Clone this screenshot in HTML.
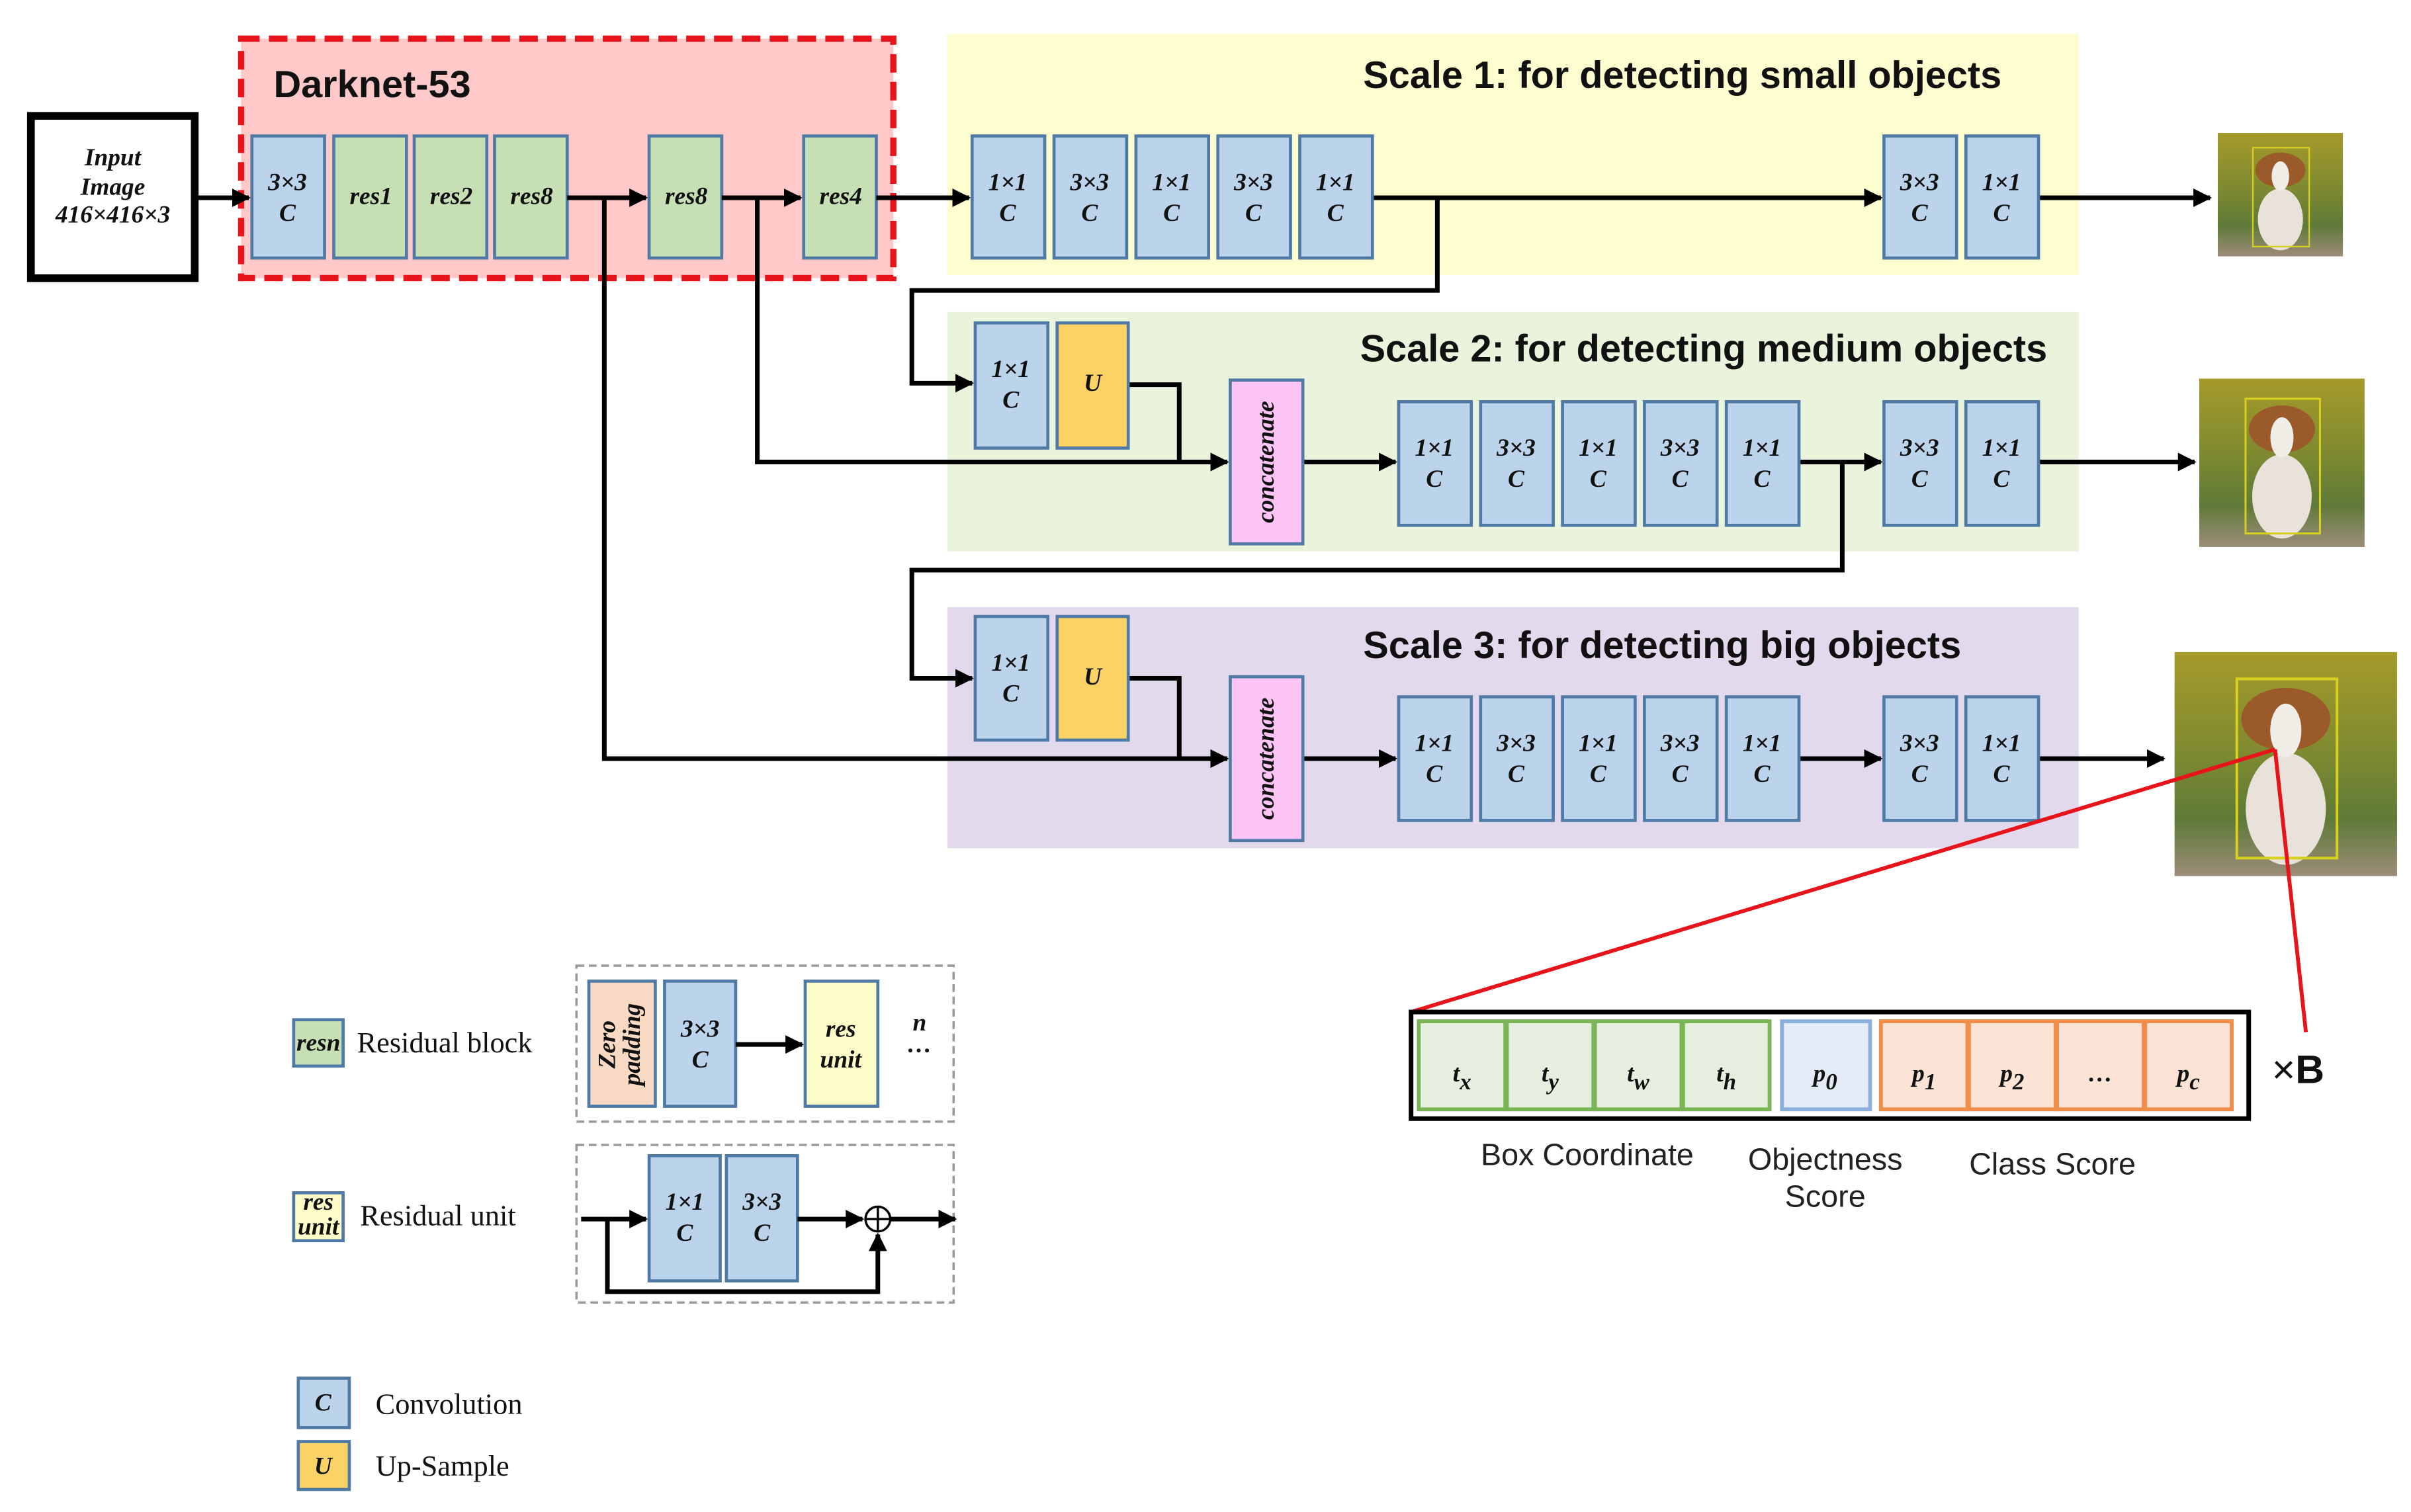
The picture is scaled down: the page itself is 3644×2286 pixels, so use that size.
<!DOCTYPE html>
<html><head><meta charset="utf-8"><style>
html,body{margin:0;padding:0;background:#fff;}
svg{display:block;}
.b{fill:#bcd3ec;stroke:#4f7aa6;stroke-width:2}
.g{fill:#c6dfb4;stroke:#4f7aa6;stroke-width:2}
.y{fill:#fbd365;stroke:#4f7aa6;stroke-width:2}
.t{font-family:"Liberation Serif",serif;font-style:italic;font-weight:bold;font-size:16px;text-anchor:middle;fill:#111}
.h{font-family:"Liberation Sans",sans-serif;font-weight:bold;font-size:24.7px;fill:#111}
.s{font-family:"Liberation Sans",sans-serif;font-size:20px;fill:#222;text-anchor:middle}
.l{font-family:"Liberation Serif",serif;font-size:19px;fill:#111}
.ln{stroke:#000;stroke-width:3;fill:none}
</style></head><body>
<svg width="3644" height="2286" viewBox="0 0 1560 978.6" preserveAspectRatio="none" xmlns="http://www.w3.org/2000/svg">
<defs>
<marker id="a" viewBox="0 0 10 10" refX="9" refY="5" markerWidth="4" markerHeight="4" orient="auto"><path d="M0,0L10,5L0,10z" fill="#000"/></marker>
<linearGradient id="bg" x1="0" y1="0" x2="0" y2="1"><stop offset="0" stop-color="#a59a2a"/><stop offset="0.45" stop-color="#7e8a30"/><stop offset="0.75" stop-color="#5f7a38"/><stop offset="1" stop-color="#9c8c78"/></linearGradient>
<symbol id="dog" viewBox="0 0 100 100" preserveAspectRatio="none">
<rect width="100" height="100" fill="url(#bg)"/>
<ellipse cx="50" cy="70" rx="18" ry="25" fill="#e8e2da"/>
<ellipse cx="50" cy="30" rx="20" ry="14" fill="#9a5a2a"/>
<ellipse cx="50" cy="35" rx="7" ry="12" fill="#f0ece6"/>
<rect x="28" y="12" width="45" height="80" fill="none" stroke="#d8d020" stroke-width="1.2"/>
</symbol>
</defs>

<rect x="20" y="75" width="106" height="105" fill="#fff" stroke="#000" stroke-width="5"/>
<text class="t" x="73" y="107" font-size="14">Input</text>
<text class="t" x="73" y="126" font-size="14">Image</text>
<text class="t" x="73" y="144" font-size="14">416×416×3</text>

<rect x="156" y="25" width="422" height="155" fill="#ffc9c9" stroke="#e8141c" stroke-width="4" stroke-dasharray="12,6"/>
<text class="h" x="177" y="63" font-size="29">Darknet-53</text>
<rect class="b" x="163" y="88" width="47" height="79"/><text class="t" x="186" y="123">3×3</text><text class="t" x="186" y="143">C</text>
<rect class="g" x="216" y="88" width="47" height="79"/><text class="t" x="240" y="132" font-size="13">res1</text>
<rect class="g" x="268" y="88" width="47" height="79"/><text class="t" x="292" y="132" font-size="13">res2</text>
<rect class="g" x="320" y="88" width="47" height="79"/><text class="t" x="344" y="132" font-size="13">res8</text>
<rect class="g" x="420" y="88" width="47" height="79"/><text class="t" x="444" y="132" font-size="13">res8</text>
<rect class="g" x="520" y="88" width="47" height="79"/><text class="t" x="544" y="132" font-size="13">res4</text>

<rect x="613" y="22" width="732" height="156" fill="#fefdd0"/>
<rect x="613" y="202" width="732" height="155" fill="#eaf4dc"/>
<rect x="613" y="393" width="732" height="156" fill="#e3d9ec"/>
<text class="h" x="882" y="57">Scale 1: for detecting small objects</text>
<text class="h" x="880" y="234">Scale 2: for detecting medium objects</text>
<text class="h" x="882" y="426">Scale 3: for detecting big objects</text>

<path class="ln" d="M126,128H161" marker-end="url(#a)"/>
<path class="ln" d="M367,128H418" marker-end="url(#a)"/>
<path class="ln" d="M467,128H518" marker-end="url(#a)"/>
<path class="ln" d="M567,128H627" marker-end="url(#a)"/>
<path class="ln" d="M888,128H1217" marker-end="url(#a)"/>
<path class="ln" d="M1319,128H1430" marker-end="url(#a)"/>
<path class="ln" d="M930,128V188H590V248H629" marker-end="url(#a)"/>
<path class="ln" d="M730,249H763V299H794" marker-end="url(#a)"/>
<path class="ln" d="M490,128V299H794" marker-end="url(#a)"/>
<path class="ln" d="M843,299H903" marker-end="url(#a)"/>
<path class="ln" d="M1164,299H1217" marker-end="url(#a)"/>
<path class="ln" d="M1319,299H1420" marker-end="url(#a)"/>
<path class="ln" d="M1192,299V369H590V439H629" marker-end="url(#a)"/>
<path class="ln" d="M730,439H763V491H794" marker-end="url(#a)"/>
<path class="ln" d="M391,128V491H794" marker-end="url(#a)"/>
<path class="ln" d="M843,491H903" marker-end="url(#a)"/>
<path class="ln" d="M1164,491H1217" marker-end="url(#a)"/>
<path class="ln" d="M1319,491H1400" marker-end="url(#a)"/>

<g>
<rect class="b" x="629" y="88" width="47" height="79"/><text class="t" x="652" y="123">1×1</text><text class="t" x="652" y="143">C</text>
<rect class="b" x="682" y="88" width="47" height="79"/><text class="t" x="705" y="123">3×3</text><text class="t" x="705" y="143">C</text>
<rect class="b" x="735" y="88" width="47" height="79"/><text class="t" x="758" y="123">1×1</text><text class="t" x="758" y="143">C</text>
<rect class="b" x="788" y="88" width="47" height="79"/><text class="t" x="811" y="123">3×3</text><text class="t" x="811" y="143">C</text>
<rect class="b" x="841" y="88" width="47" height="79"/><text class="t" x="864" y="123">1×1</text><text class="t" x="864" y="143">C</text>
<rect class="b" x="1219" y="88" width="47" height="79"/><text class="t" x="1242" y="123">3×3</text><text class="t" x="1242" y="143">C</text>
<rect class="b" x="1272" y="88" width="47" height="79"/><text class="t" x="1295" y="123">1×1</text><text class="t" x="1295" y="143">C</text>
</g>
<use href="#dog" x="1435" y="86" width="81" height="80"/>

<rect class="b" x="631" y="209" width="47" height="81"/><text class="t" x="654" y="244">1×1</text><text class="t" x="654" y="264">C</text>
<rect class="y" x="684" y="209" width="46" height="81"/><text class="t" x="707" y="253">U</text>
<rect x="796" y="246" width="47" height="106" fill="#fcc5f5" stroke="#4f7aa6" stroke-width="2"/>
<text class="t" font-size="13" transform="translate(824,299) rotate(-90)">concatenate</text>
<g>
<rect class="b" x="905" y="260" width="47" height="80"/><text class="t" x="928" y="295">1×1</text><text class="t" x="928" y="315">C</text>
<rect class="b" x="958" y="260" width="47" height="80"/><text class="t" x="981" y="295">3×3</text><text class="t" x="981" y="315">C</text>
<rect class="b" x="1011" y="260" width="47" height="80"/><text class="t" x="1034" y="295">1×1</text><text class="t" x="1034" y="315">C</text>
<rect class="b" x="1064" y="260" width="47" height="80"/><text class="t" x="1087" y="295">3×3</text><text class="t" x="1087" y="315">C</text>
<rect class="b" x="1117" y="260" width="47" height="80"/><text class="t" x="1140" y="295">1×1</text><text class="t" x="1140" y="315">C</text>
<rect class="b" x="1219" y="260" width="47" height="80"/><text class="t" x="1242" y="295">3×3</text><text class="t" x="1242" y="315">C</text>
<rect class="b" x="1272" y="260" width="47" height="80"/><text class="t" x="1295" y="295">1×1</text><text class="t" x="1295" y="315">C</text>
</g>
<use href="#dog" x="1423" y="245" width="107" height="109"/>

<rect class="b" x="631" y="399" width="47" height="80"/><text class="t" x="654" y="434">1×1</text><text class="t" x="654" y="454">C</text>
<rect class="y" x="684" y="399" width="46" height="80"/><text class="t" x="707" y="443">U</text>
<rect x="796" y="438" width="47" height="106" fill="#fcc5f5" stroke="#4f7aa6" stroke-width="2"/>
<text class="t" font-size="13" transform="translate(824,491) rotate(-90)">concatenate</text>
<g>
<rect class="b" x="905" y="451" width="47" height="80"/><text class="t" x="928" y="486">1×1</text><text class="t" x="928" y="506">C</text>
<rect class="b" x="958" y="451" width="47" height="80"/><text class="t" x="981" y="486">3×3</text><text class="t" x="981" y="506">C</text>
<rect class="b" x="1011" y="451" width="47" height="80"/><text class="t" x="1034" y="486">1×1</text><text class="t" x="1034" y="506">C</text>
<rect class="b" x="1064" y="451" width="47" height="80"/><text class="t" x="1087" y="486">3×3</text><text class="t" x="1087" y="506">C</text>
<rect class="b" x="1117" y="451" width="47" height="80"/><text class="t" x="1140" y="486">1×1</text><text class="t" x="1140" y="506">C</text>
<rect class="b" x="1219" y="451" width="47" height="80"/><text class="t" x="1242" y="486">3×3</text><text class="t" x="1242" y="506">C</text>
<rect class="b" x="1272" y="451" width="47" height="80"/><text class="t" x="1295" y="486">1×1</text><text class="t" x="1295" y="506">C</text>
</g>
<use href="#dog" x="1407" y="422" width="144" height="145"/>

<path d="M1472,485L913,655M1472,485L1492,668" stroke="#e8141c" stroke-width="2.5" fill="none"/>

<rect x="913" y="655" width="542" height="69" fill="#fff" stroke="#000" stroke-width="3"/>
<g stroke-width="2.5">
<rect x="918" y="661" width="56" height="57" fill="#e6efdf" stroke="#7ab555"/>
<rect x="975" y="661" width="56" height="57" fill="#e6efdf" stroke="#7ab555"/>
<rect x="1032" y="661" width="56" height="57" fill="#e6efdf" stroke="#7ab555"/>
<rect x="1089" y="661" width="56" height="57" fill="#e6efdf" stroke="#7ab555"/>
<rect x="1153" y="661" width="57" height="57" fill="#e3ebf6" stroke="#8cb0dc"/>
<rect x="1217" y="661" width="56" height="57" fill="#fbe3d6" stroke="#ef8d4a"/>
<rect x="1274" y="661" width="56" height="57" fill="#fbe3d6" stroke="#ef8d4a"/>
<rect x="1331" y="661" width="56" height="57" fill="#fbe3d6" stroke="#ef8d4a"/>
<rect x="1388" y="661" width="56" height="57" fill="#fbe3d6" stroke="#ef8d4a"/>
</g>
<text class="t" x="946" y="700" font-size="24">t<tspan font-size="15" dy="5">x</tspan></text>
<text class="t" x="1003" y="700" font-size="24">t<tspan font-size="15" dy="5">y</tspan></text>
<text class="t" x="1060" y="700" font-size="24">t<tspan font-size="15" dy="5">w</tspan></text>
<text class="t" x="1117" y="700" font-size="24">t<tspan font-size="15" dy="5">h</tspan></text>
<text class="t" x="1181" y="700" font-size="24">p<tspan font-size="15" dy="5">0</tspan></text>
<text class="t" x="1245" y="700" font-size="24">p<tspan font-size="15" dy="5">1</tspan></text>
<text class="t" x="1302" y="700" font-size="24">p<tspan font-size="15" dy="5">2</tspan></text>
<text class="t" x="1359" y="700" font-size="24">…</text>
<text class="t" x="1416" y="700" font-size="24">p<tspan font-size="15" dy="5">c</tspan></text>
<text x="1470" y="701" font-family="Liberation Sans,sans-serif" font-size="26" fill="#111">×<tspan font-weight="bold">B</tspan></text>
<text class="s" x="1027" y="754">Box Coordinate</text>
<text class="s" x="1181" y="757">Objectness</text>
<text class="s" x="1181" y="781">Score</text>
<text class="s" x="1328" y="760">Class Score</text>

<rect class="g" x="190" y="660" width="32" height="30"/><text class="t" x="206" y="680" font-size="11">resn</text>
<text class="l" x="231" y="681">Residual  block</text>
<rect x="373" y="625" width="244" height="101" fill="none" stroke="#999" stroke-width="1.5" stroke-dasharray="5,3"/>
<rect x="381" y="635" width="43" height="81" fill="#f8d9c4" stroke="#4f7aa6" stroke-width="2"/>
<text class="t" font-size="13" transform="translate(398,676) rotate(-90)">Zero</text>
<text class="t" font-size="13" transform="translate(414,676) rotate(-90)">padding</text>
<rect class="b" x="430" y="635" width="46" height="81"/><text class="t" x="453" y="671">3×3</text><text class="t" x="453" y="691">C</text>
<path class="ln" d="M476,676H519" marker-end="url(#a)"/>
<rect x="521" y="635" width="47" height="81" fill="#fdfcc8" stroke="#4f7aa6" stroke-width="2"/>
<text class="t" x="544" y="671" font-size="13">res</text><text class="t" x="544" y="691" font-size="13">unit</text>
<text class="t" x="595" y="667" font-size="14">n</text><text class="t" x="595" y="681" font-size="16">…</text>

<rect x="190" y="772" width="32" height="31" fill="#fdfcc8" stroke="#4f7aa6" stroke-width="2"/>
<text class="t" x="206" y="783" font-size="10">res</text><text class="t" x="206" y="799" font-size="11">unit</text>
<text class="l" x="233" y="793">Residual  unit</text>
<rect x="373" y="741" width="244" height="102" fill="none" stroke="#999" stroke-width="1.5" stroke-dasharray="5,3"/>
<rect class="b" x="420" y="748" width="46" height="81"/><text class="t" x="443" y="783">1×1</text><text class="t" x="443" y="803">C</text>
<rect class="b" x="470" y="748" width="46" height="81"/><text class="t" x="493" y="783">3×3</text><text class="t" x="493" y="803">C</text>
<path class="ln" d="M376,789H418" marker-end="url(#a)"/>
<path class="ln" d="M516,789H558" marker-end="url(#a)"/>
<circle cx="568" cy="789" r="8" fill="#fff" stroke="#000" stroke-width="1.5"/>
<path d="M560,789H576M568,781V797" stroke="#000" stroke-width="1.5"/>
<path class="ln" d="M576,789H618" marker-end="url(#a)"/>
<path class="ln" d="M393,789V836H568V799" marker-end="url(#a)"/>

<rect class="b" x="193" y="892" width="33" height="32"/><text class="t" x="209" y="913">C</text>
<text class="l" x="243" y="915">Convolution</text>
<rect class="y" x="193" y="933" width="33" height="31"/><text class="t" x="209" y="954">U</text>
<text class="l" x="243" y="955">Up-Sample</text>
</svg>
</body></html>
